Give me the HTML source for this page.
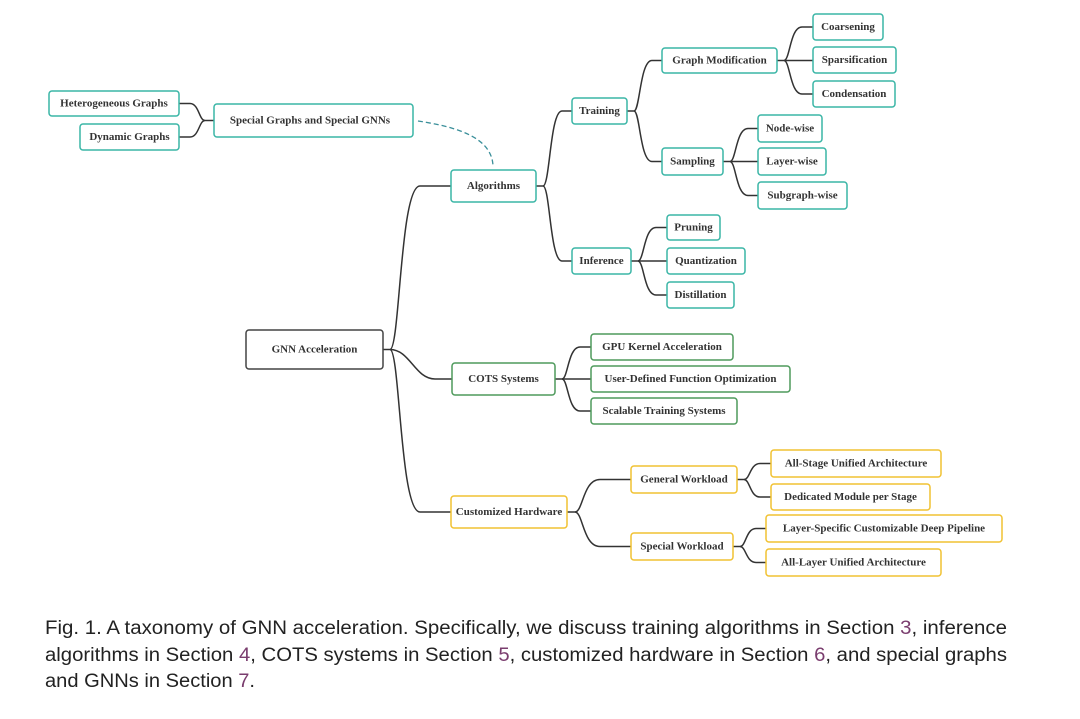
<!DOCTYPE html>
<html><head><meta charset="utf-8"><style>
html,body{margin:0;padding:0;background:#fff;}
svg{display:block}
.n{font-family:"Liberation Serif",serif;font-weight:bold;font-size:11px;fill:#333;text-anchor:middle;dominant-baseline:central}
.c{font-family:"Liberation Sans",sans-serif;font-size:19px;fill:#222}
.l{fill:none;stroke:#333;stroke-width:1.5}
.t{fill:#fff;stroke:#3ab5a6;stroke-width:1.5}
.g{fill:#fff;stroke:#4e9a5c;stroke-width:1.5}
.y{fill:#fff;stroke:#f1c232;stroke-width:1.5}
.k{fill:#fff;stroke:#444;stroke-width:1.5}
.s{fill:#7a3d6e}
</style></head><body>
<svg width="1080" height="719" viewBox="0 0 1080 719" xmlns="http://www.w3.org/2000/svg">
<!-- connectors -->
<g class="l">
<!-- root -->
<path d="M383,349.5 H390 C400,349.5 400,186 420,186 H451"/>
<path d="M390,349.5 C410,349.5 415,379 435,379 H452"/>
<path d="M390,349.5 C400,349.5 400,512 420,512 H451"/>
<!-- alg -->
<path d="M536,186 H543 C550,186 550,111 562,111 H572"/>
<path d="M543,186 C550,186 550,261 562,261 H572"/>
<!-- training -->
<path d="M627,111 H634 C640,111 640,60.5 652,60.5 H662"/>
<path d="M634,111 C640,111 640,161.5 652,161.5 H662"/>
<!-- GM -->
<path d="M777,60.5 H784 C790,60.5 790,27 802,27 H813"/>
<path d="M784,60.5 H813"/>
<path d="M784,60.5 C790,60.5 790,94 802,94 H813"/>
<!-- sampling -->
<path d="M723,161.5 H730 C736,161.5 736,128.5 748,128.5 H758"/>
<path d="M730,161.5 H758"/>
<path d="M730,161.5 C736,161.5 736,195.5 748,195.5 H758"/>
<!-- inference -->
<path d="M631,261 H638 C644,261 644,227.5 656,227.5 H667"/>
<path d="M638,261 H667"/>
<path d="M638,261 C644,261 644,295 656,295 H667"/>
<!-- COTS -->
<path d="M555,379 H562 C568,379 568,347 580,347 H591"/>
<path d="M562,379 H591"/>
<path d="M562,379 C568,379 568,411 580,411 H591"/>
<!-- CH -->
<path d="M567,512 H575 C583,512 583,479.5 600,479.5 H631"/>
<path d="M575,512 C583,512 583,546.5 600,546.5 H631"/>
<!-- GW -->
<path d="M737,479.5 H744 C750,479.5 750,463.5 760,463.5 H771"/>
<path d="M744,479.5 C750,479.5 750,497 760,497 H771"/>
<!-- SW -->
<path d="M733,546.5 H740 C746,546.5 746,528.5 756,528.5 H766"/>
<path d="M740,546.5 C746,546.5 746,562.5 756,562.5 H766"/>
<!-- special -->
<path d="M214,120.5 H205 C199,120.5 199,103.5 190,103.5 H179"/>
<path d="M205,120.5 C199,120.5 199,137 190,137 H179"/>
</g>
<path d="M418,121 C450,126 492,135 493,166" fill="none" stroke="#3a8f9a" stroke-width="1.3" stroke-dasharray="5,3"/>
<!-- nodes -->
<rect class="t" x="49" y="91" width="130" height="25" rx="3"/><text class="n" x="114" y="103.5">Heterogeneous Graphs</text>
<rect class="t" x="80" y="124" width="99" height="26" rx="3"/><text class="n" x="129.5" y="137">Dynamic Graphs</text>
<rect class="t" x="214" y="104" width="199" height="33" rx="3"/><text class="n" x="310" y="120.5">Special Graphs and Special GNNs</text>
<rect class="t" x="451" y="170" width="85" height="32" rx="3"/><text class="n" x="493.5" y="186">Algorithms</text>
<rect class="k" x="246" y="330" width="137" height="39" rx="3"/><text class="n" x="314.5" y="349.5">GNN Acceleration</text>
<rect class="g" x="452" y="363" width="103" height="32" rx="3"/><text class="n" x="503.5" y="379">COTS Systems</text>
<rect class="y" x="451" y="496" width="116" height="32" rx="3"/><text class="n" x="509" y="512">Customized Hardware</text>
<rect class="t" x="572" y="98" width="55" height="26" rx="3"/><text class="n" x="599.5" y="111">Training</text>
<rect class="t" x="572" y="248" width="59" height="26" rx="3"/><text class="n" x="601.5" y="261">Inference</text>
<rect class="t" x="662" y="48" width="115" height="25" rx="3"/><text class="n" x="719.5" y="60.5">Graph Modification</text>
<rect class="t" x="662" y="148" width="61" height="27" rx="3"/><text class="n" x="692.5" y="161.5">Sampling</text>
<rect class="t" x="813" y="14" width="70" height="26" rx="3"/><text class="n" x="848" y="27">Coarsening</text>
<rect class="t" x="813" y="47" width="83" height="26" rx="3"/><text class="n" x="854.5" y="60">Sparsification</text>
<rect class="t" x="813" y="81" width="82" height="26" rx="3"/><text class="n" x="854" y="94">Condensation</text>
<rect class="t" x="758" y="115" width="64" height="27" rx="3"/><text class="n" x="790" y="128.5">Node-wise</text>
<rect class="t" x="758" y="148" width="68" height="27" rx="3"/><text class="n" x="792" y="161.5">Layer-wise</text>
<rect class="t" x="758" y="182" width="89" height="27" rx="3"/><text class="n" x="802.5" y="195.5">Subgraph-wise</text>
<rect class="t" x="667" y="215" width="53" height="25" rx="3"/><text class="n" x="693.5" y="227.5">Pruning</text>
<rect class="t" x="667" y="248" width="78" height="26" rx="3"/><text class="n" x="706" y="261">Quantization</text>
<rect class="t" x="667" y="282" width="67" height="26" rx="3"/><text class="n" x="700.5" y="295">Distillation</text>
<rect class="g" x="591" y="334" width="142" height="26" rx="3"/><text class="n" x="662" y="347">GPU Kernel Acceleration</text>
<rect class="g" x="591" y="366" width="199" height="26" rx="3"/><text class="n" x="690.5" y="379">User-Defined Function Optimization</text>
<rect class="g" x="591" y="398" width="146" height="26" rx="3"/><text class="n" x="664" y="411">Scalable Training Systems</text>
<rect class="y" x="631" y="466" width="106" height="27" rx="3"/><text class="n" x="684" y="479.5">General Workload</text>
<rect class="y" x="631" y="533" width="102" height="27" rx="3"/><text class="n" x="682" y="546.5">Special Workload</text>
<rect class="y" x="771" y="450" width="170" height="27" rx="3"/><text class="n" x="856" y="463.5">All-Stage Unified Architecture</text>
<rect class="y" x="771" y="484" width="159" height="26" rx="3"/><text class="n" x="850.5" y="497">Dedicated Module per Stage</text>
<rect class="y" x="766" y="515" width="236" height="27" rx="3"/><text class="n" x="884" y="528.5">Layer-Specific Customizable Deep Pipeline</text>
<rect class="y" x="766" y="549" width="175" height="27" rx="3"/><text class="n" x="853.5" y="562.5">All-Layer Unified Architecture</text>
<!-- caption -->
<text class="c" x="45" y="634" textLength="962" lengthAdjust="spacingAndGlyphs">Fig. 1.  A taxonomy of GNN acceleration. Specifically, we discuss training algorithms in Section <tspan class="s">3</tspan>, inference</text>
<text class="c" x="45" y="661" textLength="962" lengthAdjust="spacingAndGlyphs">algorithms in Section <tspan class="s">4</tspan>, COTS systems in Section <tspan class="s">5</tspan>, customized hardware in Section <tspan class="s">6</tspan>, and special graphs</text>
<text class="c" x="45" y="687" textLength="210" lengthAdjust="spacingAndGlyphs">and GNNs in Section <tspan class="s">7</tspan>.</text>
</svg>
</body></html>
